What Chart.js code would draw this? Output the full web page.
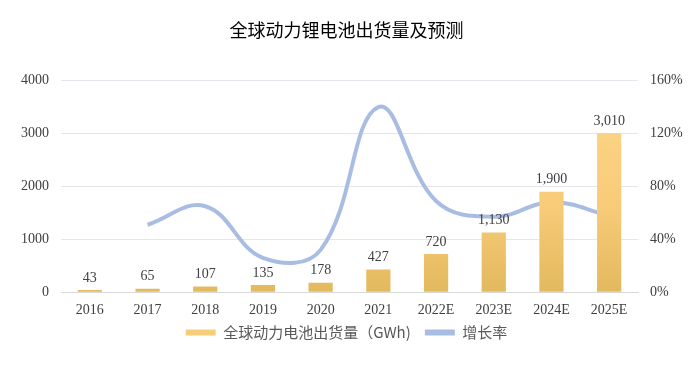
<!DOCTYPE html>
<html lang="zh">
<head>
  <meta charset="UTF-8">
  <title>全球动力锂电池出货量及预测</title>
  <script src="https://cdn.jsdelivr.net/npm/chart.js"></script>
  <style>
    body { margin: 0; background: #ffffff; }
    #wrap { width: 700px; height: 366px; }
  </style>
</head>
<body>
  <div id="wrap"><canvas id="c"></canvas></div>
  <script>
    const years = ['2016', '2017', '2018', '2019', '2020', '2021', '2022E', '2023E', '2024E', '2025E'];
    const shipments = [43, 65, 107, 135, 178, 427, 720, 1130, 1900, 3010];
    const growth = [null, 51, 65, 26, 32, 140, 69, 57, 68, 58];

    const serif = '"Liberation Serif", "DejaVu Serif", serif';
    const cjk = '"Noto Sans CJK SC", sans-serif';

    // numbers above the bars
    const barLabels = {
      id: 'barLabels',
      afterDatasetsDraw(chart) {
        const ctx = chart.ctx;
        const meta = chart.getDatasetMeta(0);
        ctx.save();
        ctx.font = '14px ' + serif;
        ctx.fillStyle = '#404040';
        ctx.textAlign = 'center';
        ctx.textBaseline = 'bottom';
        meta.data.forEach((bar, i) => {
          ctx.fillText(shipments[i].toLocaleString('en-US'), bar.x, bar.y - 5);
        });
        ctx.restore();
      }
    };

    function barFill(context) {
      const area = context.chart.chartArea;
      if (!area) return '#f8cd7a';
      const g = context.chart.ctx.createLinearGradient(0, area.top, 0, area.bottom);
      g.addColorStop(0, '#ffd78b');
      g.addColorStop(0.6, '#f7cb78');
      g.addColorStop(1, '#e3b95e');
      return g;
    }

    new Chart(document.getElementById('c'), {
      data: {
        labels: years,
        datasets: [
          {
            type: 'bar',
            label: '全球动力电池出货量（GWh)',
            data: shipments,
            backgroundColor: barFill,
            yAxisID: 'y',
            barPercentage: 0.84,
            categoryPercentage: 0.5
          },
          {
            type: 'line',
            label: '增长率',
            data: growth,
            yAxisID: 'y1',
            borderColor: '#a9bde2',
            backgroundColor: '#a9bde2',
            borderWidth: 4,
            pointRadius: 0,
            tension: 0.4
          }
        ]
      },
      options: {
        responsive: true,
        maintainAspectRatio: false,
        animation: false,
        layout: { padding: { left: 9, right: 16, top: 0, bottom: 16 } },
        scales: {
          x: {
            grid: { display: false },
            border: { color: '#d9d9d9' },
            ticks: { color: '#404040', font: { family: serif, size: 14 }, padding: 2 }
          },
          y: {
            min: 0, max: 4000,
            afterFit: s => { s.width = 52; },
            ticks: { stepSize: 1000, color: '#404040', font: { family: serif, size: 14 }, padding: 12,
              callback: v => String(v) },
            grid: { color: '#e3e6ec', drawTicks: false },
            border: { display: false }
          },
          y1: {
            position: 'right',
            min: 0, max: 160,
            afterFit: s => { s.width = 46; },
            ticks: { stepSize: 40, color: '#404040', font: { family: serif, size: 14 }, padding: 12,
              callback: v => v + '%' },
            grid: { drawOnChartArea: false, drawTicks: false },
            border: { display: false }
          }
        },
        plugins: {
          title: {
            display: true,
            text: '全球动力锂电池出货量及预测',
            color: '#000000',
            font: { family: cjk, size: 18, weight: 'normal' },
            padding: { top: 19, bottom: 40 }
          },
          legend: {
            position: 'bottom',
            labels: {
              color: '#595959',
              font: { family: cjk, size: 15 },
              boxWidth: 30,
              boxHeight: 6,
              padding: 4,
              generateLabels(chart) {
                const items = Chart.defaults.plugins.legend.labels.generateLabels(chart);
                items.forEach(it => {
                  if (it.datasetIndex === 0) {
                    it.fillStyle = '#f8cd7a';
                    it.text = it.text + '   ';
                  }
                  it.lineWidth = 0;
                  it.strokeStyle = 'rgba(0,0,0,0)';
                });
                return items;
              }
            }
          },
          tooltip: { enabled: false }
        }
      },
      plugins: [barLabels]
    });
  </script>
</body>
</html>
